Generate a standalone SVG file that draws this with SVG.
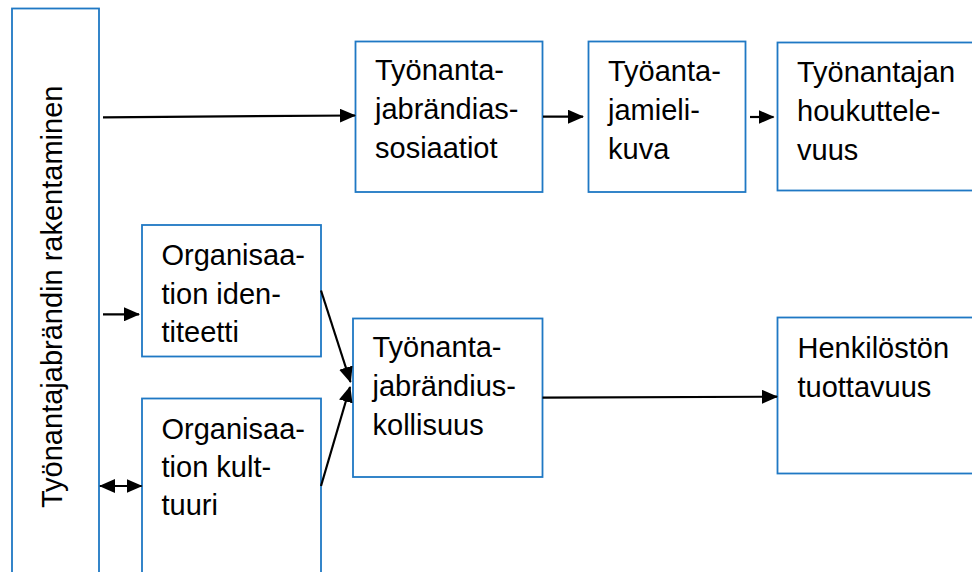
<svg xmlns="http://www.w3.org/2000/svg" width="972" height="572" viewBox="0 0 972 572">
<style>
.box{fill:#fff;stroke:#1f78c4;stroke-width:1.8}
.t{font-family:"Liberation Sans",Arial,sans-serif;font-size:29px;fill:#000}
.c{stroke:#000;stroke-width:2.2;fill:none}
</style>
<defs>
<marker id="ah" markerUnits="userSpaceOnUse" markerWidth="16" markerHeight="14" refX="15" refY="7" orient="auto-start-reverse" viewBox="0 0 16 14">
<path d="M0,0 L16,7 L0,14 z" fill="#000"/>
</marker>
</defs>
<rect width="972" height="572" fill="#fff"/>
<g id="rakentaminen">
<rect class="box" x="12" y="8.5" width="87" height="600"/>
<text class="t" font-size="30" transform="translate(62,508) rotate(-90)">Työnantajabrändin rakentaminen</text>
</g>
<g id="assosiaatiot">
<rect class="box" x="355.5" y="41.5" width="187" height="150.5"/>
<text class="t" x="375" y="80">Työnanta-</text>
<text class="t" x="375" y="119">jabrändias-</text>
<text class="t" x="375" y="158">sosiaatiot</text>
</g>
<g id="mielikuva">
<rect class="box" x="588.5" y="41.5" width="157" height="150.5"/>
<text class="t" x="608" y="80.5">Työanta-</text>
<text class="t" x="608" y="119.5">jamieli-</text>
<text class="t" x="608" y="158.5">kuva</text>
</g>
<g id="houkuttelevuus">
<rect class="box" x="777.5" y="42.5" width="220" height="148"/>
<text class="t" x="797" y="82">Työnantajan</text>
<text class="t" x="797" y="121">houkuttele-</text>
<text class="t" x="797" y="159.5">vuus</text>
</g>
<g id="identiteetti">
<rect class="box" x="142" y="225" width="179" height="131.5"/>
<text class="t" x="161.5" y="265">Organisaa-</text>
<text class="t" x="161.5" y="304">tion iden-</text>
<text class="t" x="161.5" y="342">titeetti</text>
</g>
<g id="kulttuuri">
<rect class="box" x="142" y="398.5" width="179" height="200"/>
<text class="t" x="161.5" y="438.5">Organisaa-</text>
<text class="t" x="161.5" y="477">tion kult-</text>
<text class="t" x="161.5" y="515">tuuri</text>
</g>
<g id="yhdenmukaisuus">
<rect class="box" x="353" y="318.5" width="189.5" height="158.5"/>
<text class="t" x="372.5" y="357">Työnanta-</text>
<text class="t" x="372.5" y="396">jabrändius-</text>
<text class="t" x="372.5" y="435">kollisuus</text>
</g>
<g id="tuottavuus">
<rect class="box" x="777.5" y="317.5" width="220" height="156"/>
<text class="t" x="797.5" y="358">Henkilöstön</text>
<text class="t" x="797.5" y="397">tuottavuus</text>
</g>
<g id="connectors">
<line class="c" x1="103" y1="117.3" x2="355" y2="115.5" marker-end="url(#ah)"/>
<line class="c" x1="543" y1="116.7" x2="583" y2="116.7" marker-end="url(#ah)"/>
<line class="c" x1="750" y1="117" x2="773.5" y2="117" marker-end="url(#ah)"/>
<line class="c" x1="103" y1="314.3" x2="139" y2="314.3" marker-end="url(#ah)"/>
<line class="c" x1="100" y1="486" x2="141.5" y2="486" marker-start="url(#ah)" marker-end="url(#ah)"/>
<line class="c" x1="321" y1="290.5" x2="350.5" y2="382" marker-end="url(#ah)"/>
<line class="c" x1="321" y1="486" x2="350" y2="387" marker-end="url(#ah)"/>
<line class="c" x1="542.5" y1="397.7" x2="777" y2="396.7" marker-end="url(#ah)"/>
</g>
</svg>
